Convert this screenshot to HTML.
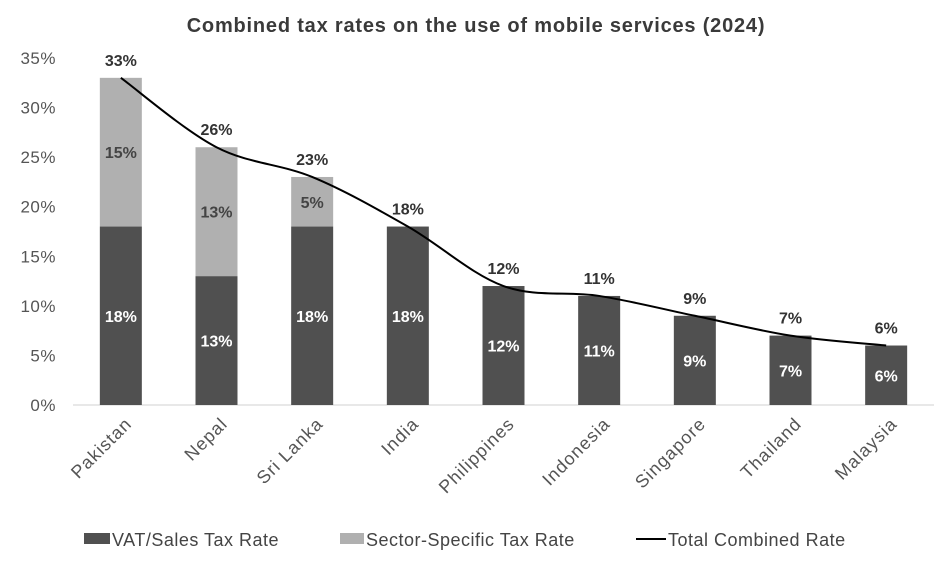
<!DOCTYPE html>
<html><head><meta charset="utf-8"><style>
body{margin:0;background:#fff;}
svg text{font-family:"Liberation Sans",sans-serif;}
</style></head><body>
<svg id="c" width="952" height="564">
<text x="476" y="32" text-anchor="middle" font-size="20" font-weight="bold" letter-spacing="0.8" fill="#3a3a3a">Combined tax rates on the use of mobile services (2024)</text>
<g id="g"></g>
<g>
<rect x="84" y="533" width="26" height="11" fill="#505050"/>
<text x="112" y="546" font-size="18" letter-spacing="0.5" fill="#444">VAT/Sales Tax Rate</text>
<rect x="340" y="533" width="24" height="11" fill="#b0b0b0"/>
<text x="366" y="546" font-size="18" letter-spacing="0.5" fill="#444">Sector-Specific Tax Rate</text>
<line x1="636" y1="539" x2="666" y2="539" stroke="#000" stroke-width="2"/>
<text x="668" y="546" font-size="18" letter-spacing="0.5" fill="#444">Total Combined Rate</text>
</g>
</svg>
<script>
const categories=["Pakistan","Nepal","Sri Lanka","India","Philippines","Indonesia","Singapore","Thailand","Malaysia"];
const vatValues=[18,13,18,18,12,11,9,7,6];
const sectorValues=[15,13,5,0,0,0,0,0,0];
const yTicks=[0,5,10,15,20,25,30,35];
const NS="http://www.w3.org/2000/svg";
const g=document.getElementById('g');
const x0=73,x1=934,y0=405,yTop=58,yMax=35;
const band=(x1-x0)/categories.length;
const xc=i=>x0+band*(i+0.5);
const y=v=>y0-(v/yMax)*(y0-yTop);
function mk(t,a){const e=document.createElementNS(NS,t);for(const k in a)e.setAttribute(k,a[k]);g.appendChild(e);return e;}
yTicks.forEach(t=>{
 const e=mk('text',{x:56,y:y(t)+6,'text-anchor':'end','font-size':17,'letter-spacing':0.5,fill:'#555'});
 e.textContent=t+'%';
 
 
});
const ax=mk('line',{x1:x0,x2:x1,y1:y0,y2:y0,stroke:'#d0d0d0','stroke-width':1});


const bw=42;
const pts=[];
categories.forEach((c,i)=>{
 const cx=xc(i),v=vatValues[i],s=sectorValues[i],tot=v+s;
 const b=mk('rect',{x:cx-bw/2,y:y(v),width:bw,height:y0-y(v),fill:'#505050'});
 
 
 const lt=mk('text',{x:cx,y:(y(v)+y0)/2+6,'text-anchor':'middle','font-size':16,'font-weight':'bold',fill:'#fff'});
 lt.textContent=v+'%';
 
 
 if(s>0){
  const b2=mk('rect',{x:cx-bw/2,y:y(tot),width:bw,height:y(v)-y(tot),fill:'#b0b0b0'});
  
  
  const l2=mk('text',{x:cx,y:(y(v)+y(tot))/2+6,'text-anchor':'middle','font-size':16,'font-weight':'bold',fill:'#444'});
  l2.textContent=s+'%';
  
  
 }
 const tl=mk('text',{x:cx,y:y(tot)-12,'text-anchor':'middle','font-size':16,'font-weight':'bold',fill:'#333'});
 tl.textContent=tot+'%';
 
 
 const lx=cx+12,ly=425;
 const cl=mk('text',{x:lx,y:ly,'text-anchor':'end','font-size':18,'letter-spacing':1,fill:'#555',transform:`rotate(-45 ${lx} ${ly})`});
 cl.textContent=c;
 
 
 pts.push([cx,y(tot)]);
});
let d='M'+pts[0][0]+','+pts[0][1];
for(let i=0;i<pts.length-1;i++){
 const p0=pts[i-1]||pts[i],p1=pts[i],p2=pts[i+1],p3=pts[i+2]||p2,t=1/3;
 const c1=[p1[0]+(p2[0]-p0[0])*t/2,p1[1]+(p2[1]-p0[1])*t/2];
 const c2=[p2[0]-(p3[0]-p1[0])*t/2,p2[1]-(p3[1]-p1[1])*t/2];
 d+=` C${c1[0]},${c1[1]} ${c2[0]},${c2[1]} ${p2[0]},${p2[1]}`;
}
const ln=mk('path',{d:d,fill:'none',stroke:'#000','stroke-width':2});


</script>
</body></html>
